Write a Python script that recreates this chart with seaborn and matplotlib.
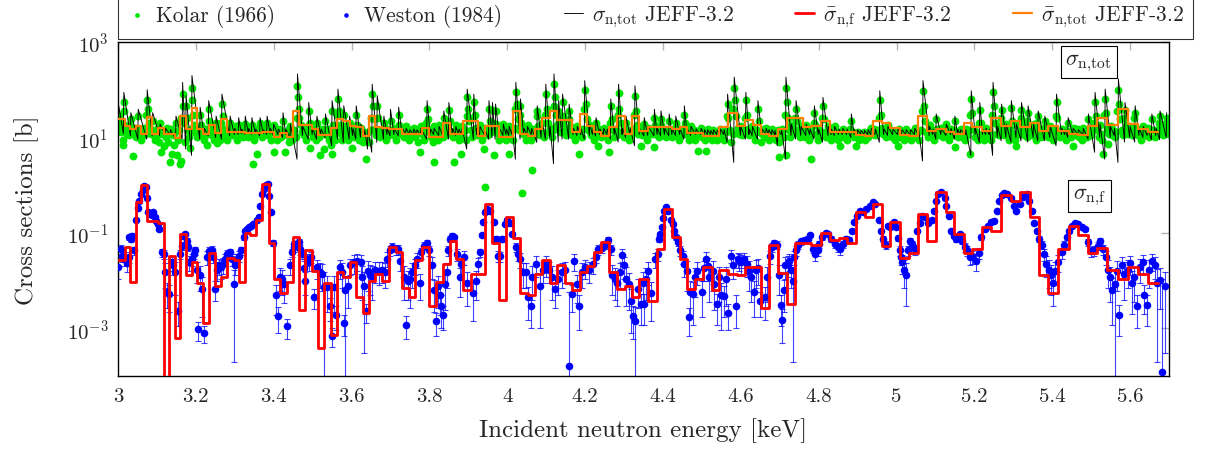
"""
Total and fission cross sections, 3.0 - 5.7 keV: Kolar/Weston data vs JEFF-3.2.
"""
import numpy as np
import pandas as pd
import matplotlib
matplotlib.use('Agg')  # headless
import matplotlib.pyplot as plt
from matplotlib.ticker import FixedLocator, FuncFormatter, NullLocator, LogFormatterSciNotation
import seaborn as sns

# ---- averaged JEFF-3.2 group values (left bin edges) ----
bin_lo = [
    3.000, 3.018, 3.031, 3.046, 3.059, 3.074, 3.088, 3.102, 3.118, 3.131,
    3.147, 3.160, 3.174, 3.190, 3.204, 3.219, 3.234, 3.250, 3.265, 3.280,
    3.297, 3.310, 3.325, 3.340, 3.355, 3.370, 3.387, 3.401, 3.417, 3.434,
    3.450, 3.464, 3.481, 3.498, 3.513, 3.530, 3.546, 3.563, 3.578, 3.595,
    3.612, 3.629, 3.645, 3.661, 3.679, 3.696, 3.713, 3.730, 3.747, 3.764,
    3.781, 3.799, 3.818, 3.836, 3.852, 3.869, 3.887, 3.906, 3.924, 3.942,
    3.960, 3.979, 3.998, 4.016, 4.034, 4.053, 4.071, 4.090, 4.109, 4.127,
    4.148, 4.167, 4.186, 4.204, 4.223, 4.242, 4.262, 4.283, 4.302, 4.320,
    4.339, 4.362, 4.384, 4.403, 4.423, 4.444, 4.463, 4.483, 4.504, 4.525,
    4.545, 4.568, 4.590, 4.611, 4.632, 4.652, 4.673, 4.695, 4.718, 4.740,
    4.761, 4.781, 4.807, 4.828, 4.852, 4.873, 4.895, 4.918, 4.939, 4.963,
    4.984, 5.008, 5.032, 5.055, 5.078, 5.102, 5.126, 5.148, 5.174, 5.195,
    5.220, 5.244, 5.268, 5.294, 5.317, 5.344, 5.367, 5.390, 5.416, 5.443,
    5.467, 5.493, 5.516, 5.542, 5.568, 5.594, 5.620, 5.645]
BIN_END = 5.671

fis_avg = [
    0.027, 0.05, 0.0095, 0.45, 1.0, 0.18, 0.18, 0.16, 5e-5, 0.033,
    0.00063, 0.095, 0.013, 0.024, 0.0087, 0.0013, 0.037, 0.0078, 0.012, 0.03,
    0.027, 0.0095, 0.098, 0.09, 0.19, 1.05, 0.062, 0.011, 0.0056, 0.0095,
    0.081, 0.0024, 0.043, 0.016, 0.00038, 0.0091, 0.00072, 0.015, 0.012, 0.024,
    0.0046, 0.0021, 0.01, 0.014, 0.0099, 0.05, 0.039, 0.0069, 0.0046, 0.027,
    0.05, 0.003, 0.0095, 0.022, 0.066, 0.028, 0.0063, 0.014, 0.014, 0.4,
    0.062, 0.004, 0.21, 0.077, 0.0056, 0.0051, 0.014, 0.027, 0.0087, 0.021,
    0.0091, 0.0063, 0.015, 0.02, 0.04, 0.065, 0.015, 0.0065, 0.0076, 0.0046,
    0.011, 0.0037, 0.046, 0.32, 0.083, 0.028, 0.0065, 0.011, 0.019, 0.0063,
    0.017, 0.014, 0.013, 0.019, 0.019, 0.0026, 0.055, 0.0145, 0.0033, 0.06,
    0.06, 0.057, 0.098, 0.071, 0.077, 0.062, 0.28, 0.21, 0.41, 0.052,
    0.17, 0.03, 0.037, 0.25, 0.069, 0.73, 0.28, 0.093, 0.038, 0.046,
    0.13, 0.11, 0.62, 0.46, 0.73, 0.22, 0.013, 0.0056, 0.046, 0.14,
    0.09, 0.038, 0.048, 0.017, 0.011, 0.019, 0.014, 0.0091]

tot_avg = [
    24, 17.4, 14.9, 17.4, 11.7, 27, 11.7, 15.6, 11.7, 11.7,
    9.5, 28, 14.9, 41, 14.9, 11.7, 18.5, 12.3, 24, 12.7,
    12.7, 12.7, 12.5, 12.5, 12.5, 12.7, 12.7, 10.4, 12.3, 10.3,
    36, 18, 18.5, 15, 11.3, 11, 15.6, 24, 22, 17.4,
    16.5, 10.5, 28, 16.5, 15.5, 15, 15, 11.7, 11.7, 11.7,
    15.6, 10, 10, 20, 11.7, 11.7, 22, 22, 10.8, 17.4,
    17.4, 10, 10, 36, 11.7, 10.8, 15, 25, 36, 23,
    23, 13.1, 31, 17.4, 12.7, 10.8, 16.2, 28, 11.7, 28,
    13.9, 16.2, 16.2, 16.2, 14.9, 16.2, 12.3, 12.3, 10.8, 10.8,
    16.2, 32, 17.4, 23, 18.5, 11.7, 10.8, 15, 26, 26,
    16.2, 17.4, 22, 12.7, 12.7, 12.7, 11.2, 10.5, 22, 20,
    15.6, 11.2, 10.5, 28, 13.9, 15, 12.7, 11.7, 20, 16.2,
    13.9, 25, 17.4, 22, 16.2, 20, 13.9, 17.4, 13.9, 11.7,
    11.2, 17.4, 26, 18.5, 40, 19, 14.9, 13.1]

# ---- pointwise JEFF-3.2 total: resonance energy, dip before it, peak ----
res_E = [
    3.002, 3.015, 3.033, 3.052, 3.075, 3.089, 3.108, 3.122, 3.135, 3.149,
    3.166, 3.175, 3.190, 3.211, 3.222, 3.233, 3.252, 3.267, 3.288, 3.300,
    3.310, 3.318, 3.327, 3.336, 3.344, 3.354, 3.365, 3.374, 3.383, 3.392,
    3.400, 3.412, 3.424, 3.432, 3.443, 3.461, 3.475, 3.490, 3.500, 3.511,
    3.522, 3.533, 3.550, 3.565, 3.580, 3.595, 3.604, 3.612, 3.624, 3.634,
    3.642, 3.653, 3.666, 3.683, 3.692,
    3.700, 3.710, 3.721, 3.731, 3.740, 3.750, 3.760, 3.768, 3.778, 3.794,
    3.803, 3.812, 3.825, 3.837, 3.850, 3.860, 3.868, 3.876, 3.884, 3.897,
    3.914, 3.922, 3.930, 3.942, 3.953, 3.962, 3.970, 3.980, 3.990, 3.998,
    4.005, 4.013, 4.022, 4.034, 4.043, 4.052, 4.063, 4.077, 4.088, 4.099,
    4.110, 4.120, 4.132, 4.142, 4.159, 4.170, 4.180, 4.190, 4.199, 4.212,
    4.220, 4.228, 4.238, 4.248, 4.257, 4.266, 4.276, 4.286, 4.296, 4.305,
    4.316, 4.328, 4.340, 4.352, 4.362,
    4.378, 4.386, 4.395, 4.405, 4.416, 4.424, 4.433, 4.444, 4.455, 4.463,
    4.472, 4.485, 4.498, 4.507, 4.515, 4.523, 4.530, 4.539, 4.548, 4.557,
    4.566, 4.583, 4.600, 4.613, 4.622, 4.630, 4.644, 4.655, 4.665, 4.672,
    4.680, 4.688, 4.695, 4.705, 4.716, 4.730, 4.742, 4.755, 4.768, 4.778,
    4.789, 4.800, 4.811, 4.825, 4.833, 4.841, 4.852, 4.862, 4.873, 4.884,
    4.892, 4.900, 4.909, 4.918, 4.927, 4.935, 4.946, 4.957, 4.968, 4.978,
    4.991, 5.004, 5.014, 5.025, 5.036, 5.047, 5.057, 5.068,
    5.085, 5.094, 5.102, 5.115, 5.128, 5.140, 5.150, 5.158, 5.165, 5.178,
    5.192, 5.203, 5.214, 5.222, 5.230, 5.239, 5.248, 5.260, 5.270, 5.282,
    5.295, 5.308, 5.321, 5.338, 5.352, 5.364, 5.381, 5.395, 5.411, 5.425,
    5.433, 5.441, 5.454, 5.467, 5.480, 5.493, 5.510, 5.523, 5.536, 5.550,
    5.560, 5.570, 5.587, 5.600, 5.613, 5.624, 5.634, 5.645, 5.656, 5.667,
    5.677, 5.694]
res_peak = [
    46, 88, 33, 39, 100, 33, 19, 15.5, 14.5, 28,
    143, 75, 198, 43, 15.5, 59, 28, 81, 28, 15.5,
    26, 15, 28, 15.5, 26, 15, 26, 14.5, 28, 15.5,
    19, 15, 33, 14.5, 19, 214, 17, 54, 15.5, 28,
    15, 31, 59, 103, 46, 28, 15.5, 46, 19, 14.5,
    14.5, 131, 75, 28, 15.5,
    39, 15.5, 43, 15.5, 15.5, 14.5, 15, 14.5, 15.5, 59,
    15, 15.5, 17, 36, 54, 15.5, 17, 15, 15.5, 103,
    81, 15.5, 17, 15.5, 59, 54, 50, 15.5, 19, 15,
    17, 15, 143, 64, 15.5, 17, 15.5, 46, 26, 131,
    17, 214, 59, 81, 50, 15.5, 17, 15, 155, 19,
    15, 26, 15, 15.5, 15, 64, 15.5, 131, 15.5, 28,
    15.5, 121, 15.5, 26, 17,
    39, 15.5, 36, 15.5, 31, 15, 28, 15.5, 46, 15,
    17, 15, 15.5, 14.5, 14.5, 14, 14.5, 14, 15, 14.5,
    81, 183, 17, 88, 15, 17, 59, 15, 15.5, 14.5,
    14.5, 14, 14.5, 15, 183, 19, 59, 17, 19, 15,
    46, 15, 69, 17, 15, 17, 15, 15.5, 15, 31,
    14.5, 14.5, 14, 14, 14.5, 15.5, 15, 95, 15, 17,
    15, 15, 14.5, 14.5, 14.5, 15.5, 14.5, 155,
    17, 15, 31, 15.5, 19, 15.5, 28, 14.5, 14.5, 14.5,
    95, 15.5, 54, 15, 15.5, 15, 143, 17, 50, 19,
    59, 19, 54, 46, 19, 36, 28, 17, 81, 15.5,
    14.5, 26, 15.5, 14.5, 15.5, 31, 88, 19, 103, 17,
    15.5, 168, 54, 17, 46, 15.5, 17, 15.5, 31, 15.5,
    36, 33]
res_dip = [
    10.8, 12, 10.8, 9.2, 9.2, 10.8, 11, 11.5, 11.5, 9.2,
    9.2, 5.7, 4.2, 9.2, 11.5, 10.8, 10, 9.2, 10.8, 11.5,
    11.5, 12, 11.5, 12, 11.5, 12, 10.8, 12, 11.5, 12,
    11, 11.5, 10, 11.5, 10, 3.5, 11, 9.2, 11.5, 9.2,
    11.5, 10, 6.7, 9.2, 7.9, 9.2, 11, 9.2, 10, 11.5,
    5.7, 4.9, 7.9, 9.2, 11.5,
    10.8, 11.5, 10.8, 11.5, 11.5, 11.5, 11.5, 11.5, 11.5, 9.2,
    11.5, 11.5, 11, 10, 9.2, 11.5, 11, 11.5, 11.5, 5.7,
    9.2, 11.5, 11, 11.5, 9.2, 10, 9.2, 11.5, 11, 11.5,
    11, 11.5, 3.5, 9.2, 11.5, 11, 11.5, 7.9, 10, 9.2,
    10, 2.8, 8, 9.2, 9.2, 11.5, 11, 11.5, 9.2, 11,
    11.5, 10.8, 11.5, 11.5, 11.5, 9.2, 11.5, 8, 11.5, 10,
    11.5, 6.7, 11.5, 10.8, 11,
    10.8, 11.5, 10.8, 11.5, 10.8, 11.5, 11, 11.5, 9.2, 11.5,
    11, 11.5, 11.5, 11.5, 11.5, 11.5, 11.5, 11.5, 11.5, 11.5,
    7.9, 3.0, 11, 9.2, 11.5, 11, 9.2, 11.5, 11.5, 11.5,
    11.5, 11.5, 6.7, 11.5, 3.5, 11, 9.2, 11, 11, 11.5,
    9.2, 11.5, 8, 11, 11.5, 11, 11.5, 11.5, 11.5, 10,
    11.5, 11.5, 11.5, 11.5, 11.5, 11.5, 11.5, 7.9, 11.5, 11,
    11.5, 11.5, 11.5, 11.5, 11.5, 11.5, 11.5, 3.2,
    11, 11.5, 9.2, 11.5, 11, 11.5, 9.2, 11.5, 11.5, 11.5,
    4.2, 11.5, 7.9, 11.5, 11.5, 11.5, 4.2, 10, 8.5, 10,
    8, 10, 8.5, 8, 10, 8.5, 8.5, 10, 6.7, 11.5,
    11.5, 10, 11.5, 11.5, 11.5, 9.2, 4.9, 10, 3.5, 10,
    11, 3.0, 8, 10, 8, 11, 10, 11, 9, 11,
    9, 10]
DIP_SHIFT = 0.0012  # keV, dip sits just below each resonance

# ---- Kolar (1966) total cross section ----
kolar_E = [
    3.000, 3.002, 3.004, 3.007, 3.010, 3.013, 3.014, 3.015, 3.016, 3.019, 3.022, 3.025, 3.028, 3.031, 3.033,
    3.036, 3.039, 3.041, 3.044, 3.047, 3.050, 3.052, 3.055, 3.058, 3.061, 3.064, 3.067, 3.070, 3.073, 3.075,
    3.077, 3.080, 3.083, 3.086, 3.089, 3.091, 3.094, 3.097, 3.100, 3.103, 3.106, 3.108, 3.110, 3.113, 3.117,
    3.120, 3.123, 3.126, 3.129, 3.132, 3.134, 3.136, 3.138, 3.141, 3.144, 3.147, 3.149, 3.151, 3.153, 3.156,
    3.158, 3.161, 3.163, 3.166, 3.167, 3.170, 3.173, 3.175, 3.177, 3.180, 3.183, 3.186, 3.188, 3.190, 3.191,
    3.193, 3.196, 3.199, 3.202, 3.205, 3.208, 3.211, 3.213, 3.216, 3.219, 3.222, 3.225, 3.228, 3.230, 3.233,
    3.235, 3.238, 3.241, 3.244, 3.247, 3.250, 3.252, 3.254, 3.257, 3.260, 3.263, 3.265, 3.267, 3.269, 3.272,
    3.275, 3.278, 3.281, 3.284, 3.287, 3.290, 3.293, 3.296, 3.299, 3.302, 3.305, 3.308, 3.311, 3.314, 3.317,
    3.320, 3.323, 3.326, 3.329, 3.332, 3.335, 3.338, 3.341, 3.344, 3.347, 3.348, 3.350, 3.353, 3.357, 3.359,
    3.362, 3.365, 3.368, 3.371, 3.374, 3.377, 3.380, 3.383, 3.386, 3.389, 3.392, 3.395, 3.398, 3.400, 3.402,
    3.405, 3.408, 3.411, 3.414, 3.417, 3.420, 3.424, 3.427, 3.430, 3.433, 3.436, 3.439, 3.442, 3.445, 3.448,
    3.452, 3.456, 3.459, 3.461, 3.462, 3.464, 3.466, 3.469, 3.472, 3.475, 3.478, 3.481, 3.484, 3.487, 3.490,
    3.492, 3.494, 3.497, 3.500, 3.503, 3.506, 3.509, 3.511, 3.514, 3.517, 3.520, 3.523, 3.526, 3.528, 3.531,
    3.533, 3.536, 3.539, 3.542, 3.545, 3.548, 3.550, 3.551, 3.552, 3.555, 3.558, 3.561, 3.563, 3.565, 3.567,
    3.570, 3.573, 3.576, 3.578, 3.580, 3.582, 3.585, 3.588, 3.591, 3.594, 3.595, 3.598, 3.601, 3.604, 3.607,
    3.610, 3.612, 3.614, 3.617, 3.620, 3.623, 3.626, 3.629, 3.632, 3.636, 3.638, 3.641, 3.644, 3.647, 3.650,
    3.653, 3.654, 3.657, 3.660, 3.663, 3.666, 3.668, 3.671, 3.674, 3.677, 3.680, 3.683, 3.686, 3.689, 3.692,
    3.695, 3.698,
    3.702, 3.705, 3.708, 3.712, 3.715, 3.718, 3.721, 3.723, 3.727, 3.731, 3.734, 3.738, 3.741, 3.744, 3.748,
    3.751, 3.755, 3.758, 3.761, 3.764, 3.768, 3.771, 3.774, 3.777, 3.779, 3.782, 3.786, 3.789, 3.792, 3.794,
    3.796, 3.799, 3.803, 3.806, 3.809, 3.811, 3.813, 3.817, 3.820, 3.823, 3.825, 3.828, 3.832, 3.835, 3.837,
    3.840, 3.843, 3.846, 3.849, 3.850, 3.853, 3.856, 3.860, 3.863, 3.865, 3.868, 3.871, 3.875, 3.878, 3.880,
    3.882, 3.884, 3.887, 3.891, 3.894, 3.896, 3.897, 3.899, 3.902, 3.906, 3.909, 3.912, 3.914, 3.916, 3.919,
    3.923, 3.926, 3.930, 3.933, 3.936, 3.940, 3.942, 3.944, 3.946, 3.950, 3.953, 3.955, 3.958, 3.962, 3.964,
    3.966, 3.968, 3.970, 3.972, 3.975, 3.979, 3.982, 3.986, 3.990, 3.993, 3.997, 4.000, 4.004, 4.005, 4.008,
    4.012, 4.015, 4.019, 4.021, 4.022, 4.024, 4.027, 4.030, 4.033, 4.034, 4.036, 4.037, 4.040, 4.044, 4.047,
    4.050, 4.052, 4.055, 4.059, 4.062, 4.064, 4.066, 4.069, 4.073, 4.076, 4.077, 4.080, 4.084, 4.088, 4.091,
    4.095, 4.097, 4.099, 4.101, 4.104, 4.108, 4.111, 4.114, 4.117, 4.119, 4.120, 4.122, 4.125, 4.128, 4.131,
    4.133, 4.136, 4.140, 4.142, 4.144, 4.148, 4.151, 4.155, 4.158, 4.159, 4.162, 4.166, 4.170, 4.173, 4.177,
    4.180, 4.183, 4.185, 4.188, 4.192, 4.195, 4.197, 4.199, 4.201, 4.204, 4.208, 4.212, 4.215, 4.219, 4.222,
    4.225, 4.228, 4.231, 4.232, 4.236, 4.240, 4.244, 4.248, 4.251, 4.255, 4.258, 4.262, 4.264, 4.266, 4.268,
    4.272, 4.275, 4.279, 4.282, 4.284, 4.286, 4.288, 4.291, 4.295, 4.299, 4.302, 4.305, 4.308, 4.312, 4.316,
    4.319, 4.323, 4.326, 4.328, 4.330, 4.333, 4.337, 4.340, 4.343, 4.345, 4.349, 4.352, 4.355, 4.359, 4.362,
    4.365, 4.368,
    4.372, 4.375, 4.377, 4.378, 4.380, 4.384, 4.387, 4.391, 4.394, 4.396, 4.400, 4.403, 4.407, 4.410, 4.413,
    4.416, 4.419, 4.423, 4.426, 4.430, 4.433, 4.436, 4.440, 4.443, 4.447, 4.451, 4.454, 4.456, 4.460, 4.463,
    4.467, 4.470, 4.472, 4.476, 4.479, 4.483, 4.486, 4.489, 4.491, 4.494, 4.498, 4.501, 4.505, 4.508, 4.511,
    4.513, 4.515, 4.519, 4.522, 4.526, 4.529, 4.532, 4.536, 4.540, 4.543, 4.547, 4.550, 4.554, 4.558, 4.561,
    4.564, 4.566, 4.568, 4.571, 4.575, 4.579, 4.581, 4.583, 4.585, 4.588, 4.592, 4.596, 4.600, 4.603, 4.607,
    4.611, 4.613, 4.615, 4.619, 4.622, 4.626, 4.630, 4.633, 4.637, 4.641, 4.644, 4.646, 4.649, 4.652, 4.655,
    4.659, 4.662, 4.665, 4.668, 4.672, 4.676, 4.680, 4.683, 4.687, 4.691, 4.695, 4.697, 4.699, 4.703, 4.707,
    4.710, 4.713, 4.716, 4.716, 4.718, 4.721, 4.724, 4.727, 4.730, 4.733, 4.737, 4.740, 4.742, 4.744, 4.748,
    4.751, 4.755, 4.758, 4.762, 4.765, 4.768, 4.771, 4.775, 4.778, 4.781, 4.783, 4.787, 4.789, 4.791, 4.795,
    4.799, 4.802, 4.806, 4.809, 4.811, 4.813, 4.817, 4.820, 4.825, 4.828, 4.832, 4.836, 4.839, 4.841, 4.845,
    4.849, 4.852, 4.854, 4.858, 4.862, 4.865, 4.869, 4.873, 4.877, 4.881, 4.884, 4.887, 4.891, 4.895, 4.897,
    4.900, 4.904, 4.908, 4.912, 4.916, 4.920, 4.924, 4.928, 4.932, 4.935, 4.938, 4.942, 4.946, 4.950, 4.954,
    4.957, 4.959, 4.962, 4.966, 4.970, 4.974, 4.978, 4.981, 4.985, 4.989, 4.993, 4.997, 5.001, 5.004, 5.006,
    5.010, 5.014, 5.018, 5.022, 5.025, 5.029, 5.033, 5.037, 5.041, 5.044, 5.047, 5.051, 5.055, 5.059, 5.062,
    5.065, 5.068, 5.070,
    5.073, 5.076, 5.080, 5.083, 5.085, 5.088, 5.092, 5.096, 5.099, 5.102, 5.105, 5.109, 5.112, 5.115, 5.119,
    5.122, 5.126, 5.128, 5.132, 5.136, 5.140, 5.143, 5.147, 5.150, 5.151, 5.154, 5.158, 5.162, 5.165, 5.169,
    5.172, 5.176, 5.178, 5.182, 5.185, 5.188, 5.190, 5.192, 5.194, 5.198, 5.202, 5.205, 5.209, 5.212, 5.214,
    5.216, 5.220, 5.224, 5.227, 5.230, 5.234, 5.238, 5.242, 5.245, 5.248, 5.250, 5.253, 5.256, 5.260, 5.263,
    5.266, 5.269, 5.270, 5.273, 5.276, 5.279, 5.282, 5.285, 5.288, 5.292, 5.295, 5.297, 5.301, 5.304, 5.308,
    5.309, 5.312, 5.316, 5.319, 5.321, 5.323, 5.327, 5.330, 5.334, 5.336, 5.338, 5.341, 5.345, 5.348, 5.352,
    5.355, 5.359, 5.362, 5.364, 5.367, 5.370, 5.374, 5.378, 5.381, 5.384, 5.388, 5.392, 5.395, 5.399, 5.403,
    5.407, 5.409, 5.411, 5.413, 5.417, 5.421, 5.425, 5.428, 5.432, 5.436, 5.439, 5.441, 5.444, 5.448, 5.451,
    5.454, 5.456, 5.460, 5.463, 5.467, 5.470, 5.474, 5.477, 5.480, 5.484, 5.487, 5.490, 5.493, 5.496, 5.500,
    5.503, 5.507, 5.510, 5.512, 5.515, 5.519, 5.523, 5.526, 5.529, 5.531, 5.534, 5.536, 5.538, 5.541, 5.544,
    5.546, 5.550, 5.553, 5.557, 5.561, 5.564, 5.567, 5.570, 5.572, 5.575, 5.579, 5.583, 5.585, 5.587, 5.590,
    5.594, 5.597, 5.600, 5.604, 5.608, 5.611, 5.613, 5.616, 5.620, 5.624, 5.627, 5.631, 5.634, 5.638, 5.641,
    5.645, 5.648, 5.652, 5.656, 5.659, 5.663, 5.667, 5.671, 5.675, 5.677, 5.680, 5.684, 5.688, 5.692, 5.694,
    5.697, 5.699]
kolar_sig = [
    14, 30, 20, 13, 16, 9, 7, 55, 35, 18, 12, 15, 11, 17, 24,
    14, 4.0, 12, 16, 10, 15, 28, 13, 9, 14, 11, 16, 12, 30, 60,
    40, 20, 15, 12, 22, 14, 9, 13, 11, 16, 8, 20, 4.9, 12, 6.7,
    14, 10, 16, 8, 12, 3.0, 15, 4.6, 11, 7, 13, 20, 4.2, 9, 14,
    2.8, 3.2, 25, 80, 45, 20, 8, 45, 25, 14, 10, 6, 15, 110, 60,
    30, 18, 13, 10, 16, 12, 30, 18, 11, 14, 9, 15, 7, 12, 40,
    22, 14, 11, 16, 9, 13, 20, 7.5, 14, 11, 9, 20, 50, 28, 15,
    11, 14, 9, 13, 20, 15, 11, 16, 12, 17, 9, 14, 18, 12, 15,
    10, 14, 19, 13, 16, 10, 14, 11, 18, 13, 2.8, 9, 15, 4.6, 12,
    16, 20, 13, 10, 15, 12, 17, 20, 11, 14, 9, 13, 16, 4.9, 18,
    12, 9, 14, 11, 15, 10, 22, 13, 4.9, 11, 14, 8, 17, 12, 9,
    14, 10, 25, 120, 70, 40, 25, 18, 13, 16, 11, 14, 9, 17, 35,
    20, 5.9, 13, 10, 15, 12, 9, 20, 13, 10, 4.2, 15, 12, 5.7, 14,
    22, 11, 15, 9, 13, 7, 35, 4.5, 18, 12, 9, 14, 30, 65, 35,
    18, 12, 9, 15, 30, 17, 11, 14, 9, 13, 20, 12, 6, 14, 10,
    16, 30, 18, 12, 9, 16, 12, 8, 13, 3.5, 10, 13, 8, 14, 25,
    80, 45, 24, 15, 11, 45, 25, 14, 10, 15, 12, 20, 13, 9, 15,
    11, 14,
    22, 14, 11, 16, 9, 13, 30, 18, 12, 15, 10, 14, 17, 12, 9,
    14, 11, 15, 16, 10, 13, 8, 15, 5, 17, 12, 9, 14, 20, 40,
    24, 13, 10, 15, 8, 3.0, 17, 11, 14, 9, 18, 12, 15, 10, 26,
    16, 11, 14, 20, 38, 22, 13, 10, 3.1, 14, 18, 11, 9, 14, 4.6,
    12, 17, 10, 14, 9, 28, 70, 40, 22, 14, 10, 25, 55, 30, 16,
    11, 14, 18, 12, 9, 5.7, 13, 0.9, 16, 11, 40, 22, 13, 38, 20,
    4.2, 14, 35, 19, 12, 9, 14, 11, 19, 13, 9, 14, 4.6, 17, 11,
    14, 9, 16, 40, 90, 50, 24, 14, 30, 45, 20, 0.70, 12, 15, 9,
    13, 18, 11, 14, 9, 2.1, 15, 11, 14, 28, 35, 17, 11, 20, 13,
    10, 30, 80, 40, 20, 13, 16, 10, 14, 45, 130, 70, 30, 18, 35,
    22, 13, 20, 55, 28, 15, 11, 14, 24, 35, 17, 11, 14, 9, 13,
    17, 11, 4.6, 14, 10, 15, 40, 100, 50, 24, 14, 18, 11, 14, 9,
    13, 20, 12, 6.7, 15, 10, 14, 16, 11, 14, 9, 5, 20, 45, 24,
    14, 10, 15, 11, 30, 85, 40, 20, 13, 10, 15, 20, 12, 9, 14,
    11, 15, 30, 75, 35, 18, 12, 16, 6.7, 11, 14, 19, 12, 9, 16,
    12, 14,
    12, 15, 26, 6.2, 18, 11, 14, 10, 24, 18, 12, 15, 10, 14, 11,
    22, 14, 10, 15, 12, 20, 13, 9, 15, 11, 14, 30, 20, 12, 15,
    9, 13, 17, 11, 14, 9, 13, 5.3, 11, 14, 16, 10, 13, 9, 5.3,
    12, 15, 10, 13, 9, 14, 11, 13, 9, 12, 15, 11, 14, 9, 13,
    28, 50, 25, 14, 8, 12, 40, 110, 60, 28, 16, 12, 17, 11, 14,
    25, 60, 30, 15, 11, 14, 17, 12, 9, 14, 40, 22, 13, 7.9, 12,
    15, 10, 16, 12, 9, 13, 15, 10, 13, 9, 14, 8, 3.9, 12, 15,
    10, 30, 110, 4.2, 55, 25, 14, 10, 18, 12, 15, 25, 40, 22, 13,
    10, 17, 12, 14, 10, 18, 12, 9, 14, 3.5, 12, 20, 32, 18, 12,
    9, 14, 11, 25, 45, 24, 13, 10, 17, 12, 9, 14, 11, 17, 12,
    9, 13, 6.7, 11, 15, 10, 13, 9, 12, 15, 22, 13, 10, 12, 6.7,
    13, 9, 12, 10, 13, 9, 12, 10, 14, 16, 12, 15, 11, 14, 25,
    60, 30, 16, 12, 15, 10, 18, 12, 14, 10, 13, 9, 12, 6.7, 15,
    10, 12, 9, 13, 15, 10, 12, 9, 13, 11, 16, 10, 13, 9, 14,
    35, 95, 45,
    22, 13, 10, 14, 18, 11, 14, 9, 13, 24, 15, 11, 13, 16, 10,
    14, 12, 19, 12, 9, 15, 11, 14, 6.2, 22, 13, 10, 14, 15, 10,
    13, 9, 15, 11, 14, 4.6, 30, 65, 32, 15, 10, 13, 9, 20, 38,
    20, 12, 9, 13, 16, 11, 14, 9, 30, 90, 45, 20, 12, 17, 11,
    14, 25, 38, 18, 11, 14, 19, 12, 9, 16, 42, 22, 12, 9, 6.7,
    18, 12, 15, 25, 38, 18, 11, 14, 10, 22, 33, 17, 11, 14, 19,
    12, 9, 20, 28, 15, 10, 13, 16, 22, 13, 10, 14, 17, 11, 9,
    14, 28, 55, 26, 13, 10, 15, 11, 14, 9, 13, 20, 13, 10, 14,
    6.7, 16, 11, 13, 15, 10, 13, 9, 16, 12, 14, 10, 24, 15, 11,
    14, 20, 55, 28, 14, 10, 18, 12, 9, 4.6, 30, 65, 32, 15, 7.2,
    12, 17, 11, 14, 10, 13, 35, 100, 50, 24, 14, 11, 25, 38, 18,
    12, 14, 17, 11, 14, 25, 33, 16, 11, 14, 9, 13, 17, 11, 14,
    16, 10, 14, 24, 14, 10, 14, 12, 20, 28, 16, 11, 14, 20, 26,
    15, 12]

# ---- Weston (1984) fission cross section with uncertainties ----
weston_E = [
    3.000, 3.008, 3.011, 3.016, 3.022, 3.027, 3.028, 3.033, 3.037, 3.040,
    3.046, 3.051, 3.054, 3.059, 3.063, 3.068, 3.072, 3.074, 3.076, 3.081,
    3.087, 3.091, 3.094, 3.097, 3.102, 3.106, 3.112, 3.117, 3.121, 3.125,
    3.130, 3.138, 3.142, 3.147, 3.154, 3.160, 3.164, 3.168, 3.172, 3.177,
    3.179, 3.183, 3.190, 3.194, 3.198, 3.202, 3.205, 3.211, 3.217, 3.222,
    3.228, 3.234, 3.241, 3.245, 3.248, 3.254, 3.260, 3.265, 3.271, 3.275,
    3.280, 3.288, 3.292, 3.297, 3.301, 3.305, 3.311, 3.317, 3.323, 3.327,
    3.331, 3.336, 3.342, 3.348, 3.357, 3.363, 3.366, 3.370, 3.374, 3.380,
    3.385, 3.389, 3.393, 3.397, 3.406, 3.411, 3.417, 3.421, 3.426, 3.434,
    3.443, 3.447, 3.451,
    3.453, 3.458, 3.464, 3.468, 3.473, 3.477, 3.481, 3.486, 3.490, 3.496,
    3.504, 3.510, 3.518, 3.524, 3.528, 3.537, 3.544, 3.550, 3.554, 3.561,
    3.571, 3.575, 3.580, 3.584, 3.590, 3.597, 3.606, 3.614, 3.623, 3.627,
    3.631, 3.638, 3.642, 3.647, 3.653, 3.661, 3.670, 3.678, 3.687, 3.691,
    3.698, 3.704, 3.713, 3.719, 3.724, 3.734, 3.741, 3.745, 3.750, 3.756,
    3.762, 3.768, 3.775, 3.779, 3.786, 3.793, 3.799, 3.807, 3.811, 3.817,
    3.823, 3.827, 3.830, 3.835, 3.839, 3.844, 3.848, 3.853, 3.859, 3.863,
    3.871, 3.878, 3.882, 3.889, 3.897,
    3.912, 3.919, 3.926, 3.929, 3.934, 3.938, 3.943, 3.949, 3.955, 3.966,
    3.972, 3.977, 3.981, 3.987, 3.994, 4.000, 4.006, 4.013, 4.022, 4.028,
    4.033, 4.040, 4.047, 4.052, 4.060, 4.064, 4.073, 4.083, 4.092, 4.099,
    4.106, 4.116, 4.123, 4.131, 4.140, 4.149, 4.159, 4.166, 4.172, 4.178,
    4.185, 4.193, 4.200, 4.210, 4.219, 4.227, 4.234, 4.243, 4.251, 4.260,
    4.266, 4.270, 4.277, 4.283, 4.289, 4.294, 4.300, 4.306, 4.313, 4.318,
    4.322, 4.329, 4.335, 4.343,
    4.349, 4.352, 4.356, 4.362, 4.369, 4.379, 4.386, 4.391, 4.393, 4.397,
    4.399, 4.403, 4.408, 4.414, 4.421, 4.425, 4.429, 4.433, 4.438, 4.445,
    4.451, 4.455, 4.463, 4.468, 4.470, 4.476, 4.482, 4.487, 4.500, 4.506,
    4.510, 4.515, 4.519, 4.528, 4.532, 4.539, 4.545, 4.549, 4.556, 4.562,
    4.568, 4.575, 4.579, 4.588, 4.592, 4.596, 4.601, 4.608, 4.616, 4.622,
    4.627, 4.633, 4.639, 4.645, 4.650, 4.661, 4.668, 4.674, 4.680, 4.686,
    4.693, 4.697, 4.702, 4.705, 4.710, 4.714, 4.721, 4.725, 4.729, 4.734,
    4.736, 4.742, 4.748, 4.755, 4.764, 4.772, 4.779, 4.785, 4.791, 4.798,
    4.802, 4.809, 4.818, 4.824, 4.832, 4.841, 4.849, 4.855, 4.862, 4.871,
    4.879, 4.886, 4.892, 4.898, 4.905, 4.914, 4.922, 4.931, 4.939, 4.946,
    4.955, 4.961, 4.965, 4.972, 4.978, 4.984, 4.993, 4.999, 5.004, 5.008,
    5.012, 5.015, 5.018, 5.024, 5.030, 5.034, 5.041, 5.047, 5.053, 5.060,
    5.066, 5.072, 5.081, 5.090, 5.096, 5.101, 5.107, 5.115, 5.124, 5.128,
    5.135, 5.141, 5.147, 5.154, 5.162, 5.169, 5.175, 5.181, 5.188, 5.195,
    5.204, 5.212, 5.218, 5.227, 5.236, 5.244,
    5.251, 5.257, 5.263, 5.270, 5.277, 5.285, 5.294, 5.302, 5.308, 5.317,
    5.325, 5.334, 5.340, 5.347, 5.354, 5.360, 5.366, 5.373, 5.379, 5.385,
    5.391, 5.397, 5.403, 5.407, 5.415, 5.424, 5.431, 5.437, 5.443, 5.450,
    5.458, 5.467, 5.476, 5.484, 5.493, 5.500, 5.508, 5.517, 5.523, 5.531,
    5.537, 5.544, 5.548, 5.553, 5.560, 5.566, 5.572, 5.578, 5.585, 5.594,
    5.600, 5.606, 5.611, 5.617, 5.626, 5.632, 5.637, 5.643, 5.649, 5.656,
    5.663, 5.669, 5.677, 5.683, 5.691]
weston_sig = [
    0.019, 0.046, 0.032, 0.028, 0.023, 0.031, 0.081, 0.075, 0.087, 0.043,
    0.19, 0.33, 0.47, 0.65, 0.80, 0.97, 0.90, 0.55, 0.28, 0.25,
    0.24, 0.27, 0.21, 0.18, 0.15, 0.12, 0.039, 0.036, 0.015, 0.0057,
    0.0052, 0.024, 0.021, 0.015, 0.0023, 0.036, 0.054, 0.087, 0.094, 0.069,
    0.050, 0.024, 0.028, 0.036, 0.043, 0.017, 0.00095, 0.013, 0.0067, 0.0008,
    0.031, 0.041, 0.043, 0.031, 0.0067, 0.017, 0.021, 0.019, 0.022, 0.028,
    0.036, 0.039, 0.028, 0.0084, 0.021, 0.028, 0.033, 0.043, 0.081, 0.112,
    0.12, 0.13, 0.14, 0.15, 0.19, 0.22, 0.37, 0.65, 0.83, 1.0,
    1.05, 0.60, 0.27, 0.062, 0.0049, 0.0018, 0.012, 0.011, 0.0084, 0.0011,
    0.021, 0.039, 0.059,
    0.050, 0.059, 0.064, 0.045, 0.036, 0.018, 0.0099, 0.028, 0.024, 0.031,
    0.0045, 0.019, 0.015, 0.014, 0.0075, 0.0072, 0.0029, 0.0007, 0.0072, 0.0019,
    0.019, 0.015, 0.0013, 0.0062, 0.0077, 0.021, 0.024, 0.026, 0.024, 0.012,
    0.0077, 0.0023, 0.016, 0.013, 0.012, 0.017, 0.016, 0.017, 0.015, 0.029,
    0.043, 0.050, 0.045, 0.045, 0.026, 0.012, 0.0012, 0.0099, 0.0106, 0.015,
    0.021, 0.028, 0.009, 0.039, 0.054, 0.061, 0.043, 0.021, 0.0062, 0.0014,
    0.0077, 0.0049, 0.003, 0.0019, 0.0084, 0.015, 0.043, 0.075, 0.087, 0.081,
    0.036, 0.0116, 0.022, 0.031, 0.009,
    0.0054, 0.0099, 0.022, 0.039, 0.09, 0.17, 0.27, 0.32, 0.29, 0.17,
    0.075, 0.033, 0.032, 0.075, 0.15, 0.19, 0.16, 0.094, 0.050, 0.036,
    0.028, 0.015, 0.015, 0.0045, 0.003, 0.012, 0.022, 0.0077, 0.017, 0.022,
    0.017, 0.012, 0.0067, 0.011, 0.015, 0.017, 0.00016, 0.0052, 0.026, 0.0084,
    0.0029, 0.015, 0.019, 0.017, 0.022, 0.031, 0.045, 0.048, 0.056, 0.072,
    0.045, 0.013, 0.011, 0.009, 0.015, 0.035, 0.021, 0.011, 0.0084, 0.0038,
    0.0018, 0.0014, 0.0067, 0.0032,
    0.009, 0.0032, 0.011, 0.016, 0.0054, 0.028, 0.036, 0.075, 0.094, 0.13,
    0.20, 0.29, 0.34, 0.29, 0.19, 0.15, 0.112, 0.081, 0.064, 0.043,
    0.032, 0.022, 0.016, 0.0017, 0.0059, 0.0052, 0.0116, 0.016, 0.0057, 0.018,
    0.029, 0.020, 0.0116, 0.016, 0.0084, 0.0032, 0.0116, 0.0049, 0.0047, 0.011,
    0.0021, 0.033, 0.021, 0.003, 0.028, 0.026, 0.024, 0.028, 0.022, 0.016,
    0.0116, 0.0057, 0.017, 0.018, 0.0037, 0.0045, 0.0116, 0.032, 0.050, 0.062,
    0.056, 0.013, 0.0031, 0.0015, 0.0062, 0.021, 0.022, 0.026, 0.017, 0.0099,
    0.031, 0.043, 0.056, 0.066, 0.072, 0.075, 0.09, 0.047, 0.036, 0.043,
    0.059, 0.081, 0.10, 0.094, 0.075, 0.059, 0.050, 0.045, 0.059, 0.075,
    0.072, 0.112, 0.17, 0.23, 0.29, 0.27, 0.31, 0.37, 0.44, 0.40,
    0.19, 0.112, 0.075, 0.056, 0.14, 0.13, 0.17, 0.13, 0.078, 0.043,
    0.031, 0.024, 0.017, 0.013, 0.043, 0.069, 0.059, 0.045, 0.112, 0.16,
    0.23, 0.21, 0.16, 0.19, 0.29, 0.47, 0.65, 0.72, 0.55, 0.37,
    0.23, 0.112, 0.087, 0.075, 0.094, 0.069, 0.050, 0.043, 0.031, 0.032,
    0.026, 0.038, 0.081, 0.12, 0.14, 0.17,
    0.18, 0.29, 0.47, 0.62, 0.68, 0.65, 0.55, 0.37, 0.29, 0.40,
    0.57, 0.65, 0.47, 0.29, 0.16, 0.11, 0.075, 0.056, 0.036, 0.022,
    0.017, 0.013, 0.009, 0.016, 0.025, 0.039, 0.056, 0.081, 0.11, 0.14,
    0.16, 0.15, 0.13, 0.12, 0.064, 0.041, 0.043, 0.054, 0.069, 0.045,
    0.031, 0.017, 0.0116, 0.0062, 0.0084, 0.016, 0.0019, 0.021, 0.014, 0.017,
    0.023, 0.009, 0.0116, 0.003, 0.019, 0.024, 0.005, 0.0031, 0.017, 0.026,
    0.021, 0.009, 0.0105, 0.00012, 0.0077]
weston_err = [
    0.008, 0.010, 0.008, 0.008, 0.008, 0.008, 0.010, 0.010, 0.010, 0.008,
    0.015, 0.02, 0.02, 0.03, 0.03, 0.04, 0.04, 0.03, 0.02, 0.02,
    0.02, 0.02, 0.015, 0.015, 0.012, 0.012, 0.008, 0.008, 0.008, 0.003,
    0.003, 0.008, 0.008, 0.010, 0.0012, 0.008, 0.010, 0.010, 0.010, 0.010,
    0.008, 0.008, 0.008, 0.008, 0.008, 0.008, 0.0004, 0.007, 0.005, 0.0003,
    0.010, 0.010, 0.010, 0.008, 0.003, 0.007, 0.008, 0.008, 0.008, 0.008,
    0.008, 0.008, 0.008, 0.0082, 0.008, 0.008, 0.008, 0.008, 0.010, 0.010,
    0.010, 0.010, 0.010, 0.012, 0.015, 0.015, 0.02, 0.03, 0.03, 0.04,
    0.04, 0.03, 0.02, 0.010, 0.003, 0.001, 0.006, 0.006, 0.005, 0.0005,
    0.008, 0.008, 0.010,
    0.010, 0.010, 0.010, 0.010, 0.008, 0.008, 0.005, 0.008, 0.008, 0.008,
    0.002, 0.008, 0.008, 0.008, 0.0075, 0.005, 0.0015, 0.0003, 0.005, 0.001,
    0.008, 0.008, 0.0006, 0.0062, 0.005, 0.008, 0.010, 0.010, 0.010, 0.008,
    0.0074, 0.001, 0.010, 0.008, 0.008, 0.008, 0.008, 0.008, 0.008, 0.010,
    0.010, 0.010, 0.010, 0.010, 0.010, 0.008, 0.0006, 0.006, 0.008, 0.008,
    0.008, 0.010, 0.005, 0.010, 0.010, 0.010, 0.010, 0.010, 0.004, 0.0007,
    0.005, 0.003, 0.002, 0.001, 0.006, 0.008, 0.010, 0.010, 0.010, 0.010,
    0.010, 0.007, 0.010, 0.010, 0.006,
    0.004, 0.006, 0.008, 0.008, 0.010, 0.012, 0.02, 0.02, 0.02, 0.012,
    0.010, 0.008, 0.008, 0.010, 0.012, 0.015, 0.012, 0.010, 0.010, 0.010,
    0.010, 0.008, 0.008, 0.003, 0.002, 0.008, 0.010, 0.0067, 0.008, 0.010,
    0.008, 0.008, 0.004, 0.006, 0.008, 0.008, 0.0056, 0.003, 0.010, 0.005,
    0.002, 0.008, 0.008, 0.008, 0.008, 0.008, 0.010, 0.010, 0.010, 0.010,
    0.010, 0.008, 0.007, 0.006, 0.008, 0.010, 0.010, 0.008, 0.006, 0.003,
    0.0012, 0.0014, 0.004, 0.002,
    0.006, 0.002, 0.007, 0.008, 0.004, 0.010, 0.010, 0.010, 0.010, 0.012,
    0.015, 0.02, 0.02, 0.02, 0.015, 0.012, 0.010, 0.010, 0.010, 0.010,
    0.010, 0.010, 0.010, 0.001, 0.004, 0.004, 0.007, 0.008, 0.004, 0.008,
    0.010, 0.010, 0.008, 0.010, 0.006, 0.002, 0.008, 0.004, 0.003, 0.008,
    0.0012, 0.010, 0.010, 0.002, 0.010, 0.010, 0.010, 0.010, 0.010, 0.010,
    0.008, 0.004, 0.010, 0.010, 0.002, 0.003, 0.008, 0.010, 0.010, 0.010,
    0.010, 0.008, 0.002, 0.001, 0.004, 0.010, 0.010, 0.010, 0.010, 0.0097,
    0.010, 0.010, 0.010, 0.010, 0.010, 0.010, 0.010, 0.010, 0.010, 0.010,
    0.010, 0.010, 0.010, 0.010, 0.010, 0.010, 0.010, 0.010, 0.010, 0.010,
    0.010, 0.010, 0.012, 0.015, 0.02, 0.02, 0.02, 0.02, 0.02, 0.02,
    0.015, 0.010, 0.010, 0.010, 0.012, 0.012, 0.012, 0.012, 0.010, 0.010,
    0.010, 0.010, 0.010, 0.010, 0.010, 0.010, 0.010, 0.010, 0.010, 0.012,
    0.015, 0.015, 0.012, 0.015, 0.02, 0.02, 0.03, 0.03, 0.03, 0.02,
    0.015, 0.010, 0.010, 0.010, 0.010, 0.010, 0.010, 0.010, 0.010, 0.010,
    0.010, 0.010, 0.010, 0.012, 0.012, 0.012,
    0.012, 0.02, 0.02, 0.03, 0.03, 0.03, 0.03, 0.02, 0.02, 0.02,
    0.03, 0.03, 0.02, 0.02, 0.012, 0.010, 0.010, 0.010, 0.010, 0.010,
    0.010, 0.008, 0.006, 0.008, 0.010, 0.010, 0.010, 0.010, 0.010, 0.012,
    0.012, 0.012, 0.012, 0.012, 0.010, 0.010, 0.010, 0.010, 0.010, 0.010,
    0.010, 0.010, 0.008, 0.005, 0.0083, 0.010, 0.0012, 0.010, 0.010, 0.010,
    0.010, 0.007, 0.008, 0.002, 0.010, 0.010, 0.003, 0.002, 0.010, 0.010,
    0.010, 0.0088, 0.008, 0.0108, 0.0074]

# ---- style ----
sns.set_style('white')
plt.rcParams['font.family'] = 'serif'
plt.rcParams['font.serif'] = ['cmr10']
plt.rcParams['mathtext.fontset'] = 'cm'
plt.rcParams['axes.unicode_minus'] = False
plt.rcParams['axes.formatter.use_mathtext'] = True

GREEN = '#00e600'
BLUE = '#0000ff'
RED = '#ff0000'
ORANGE = '#ff8000'

# tables for seaborn
kolar = pd.DataFrame({'E': kolar_E, 'sig': kolar_sig})
weston = pd.DataFrame({'E': weston_E, 'sig': weston_sig, 'err': weston_err})
steps = pd.DataFrame({'E': bin_lo + [BIN_END],
                      'fis': fis_avg + [fis_avg[-1]],
                      'tot': tot_avg + [tot_avg[-1]]})
line_E, line_sig = [], []
for e, dip, peak in zip(res_E, res_dip, res_peak):
    line_E += [e - DIP_SHIFT, e]
    line_sig += [dip, peak]
pointwise = pd.DataFrame({'E': line_E, 'sig': line_sig})

fig = plt.figure(figsize=(12.11, 4.52), dpi=100)
ax = fig.add_axes([118 / 1211, 1 - 377 / 452, 1051 / 1211, 334 / 452])

sns.scatterplot(data=kolar, x='E', y='sig', ax=ax, color=GREEN, s=32,
                linewidth=0, zorder=1, label='Kolar (1966)')
ax.errorbar(weston['E'], weston['sig'], yerr=weston['err'], fmt='none',
            ecolor=BLUE, elinewidth=0.8, capsize=2.5, capthick=0.8,
            alpha=0.75, zorder=2)
sns.scatterplot(data=weston, x='E', y='sig', ax=ax, color=BLUE, s=30,
                linewidth=0, zorder=3, label='Weston (1984)')
sns.lineplot(data=pointwise, x='E', y='sig', ax=ax, color='black', lw=0.65,
             estimator=None, sort=False, zorder=4,
             label=r'$\sigma_{\rm n{,}tot}$ JEFF-3.2')
sns.lineplot(data=steps, x='E', y='fis', ax=ax, color=RED, lw=2.0,
             estimator=None, sort=False, drawstyle='steps-post', zorder=5,
             label=r'$\bar{\sigma}_{\rm n{,}f}$ JEFF-3.2')
sns.lineplot(data=steps, x='E', y='tot', ax=ax, color=ORANGE, lw=1.6,
             estimator=None, sort=False, drawstyle='steps-post', zorder=6,
             label=r'$\bar{\sigma}_{\rm n{,}tot}$ JEFF-3.2')

ax.set_yscale('log')
ax.set_xlim(3.0, 5.7)
ax.set_ylim(1e-4, 1e3)
ax.xaxis.set_major_locator(FixedLocator([3.0, 3.2, 3.4, 3.6, 3.8, 4.0, 4.2, 4.4,
                                         4.6, 4.8, 5.0, 5.2, 5.4, 5.6]))
ax.xaxis.set_major_formatter(FuncFormatter(lambda v, p: f'{v:g}'))
ax.yaxis.set_major_locator(FixedLocator([1e-3, 1e-1, 1e1, 1e3]))
ax.yaxis.set_major_formatter(LogFormatterSciNotation())
ax.yaxis.set_minor_locator(NullLocator())
ax.xaxis.set_minor_locator(NullLocator())
ax.tick_params(direction='in', length=6, width=1, color='#b3b3b3',
               top=True, right=True, labelsize=15)
ax.tick_params(axis='x', pad=8)
ax.tick_params(axis='y', pad=7)
for sp in ax.spines.values():
    sp.set_color('black')
    sp.set_linewidth(1.0)

ax.set_xlabel('Incident neutron energy [keV]', fontsize=18, labelpad=9)
ax.set_ylabel('Cross sections [b]', fontsize=18, labelpad=20)

box = dict(boxstyle='square,pad=0.22', fc='white', ec='black', lw=0.8)
ax.text(5.494, 380, r'$\sigma_{\rm n{,}tot}$', ha='center', va='center',
        fontsize=16, bbox=box, zorder=10)
ax.text(5.496, 0.59, r'$\sigma_{\rm n{,}f}$', ha='center', va='center',
        fontsize=16, bbox=box, zorder=10)

handles, labels = ax.get_legend_handles_labels()
ax.get_legend().remove()
leg = fig.legend(handles, labels, loc='lower left', ncol=5,
                 bbox_to_anchor=(118 / 1211, 1 - 40 / 452),
                 frameon=True, fancybox=False, edgecolor='black',
                 fontsize=15.5, handlelength=0.9, handletextpad=0.4,
                 columnspacing=2.85, borderpad=0.45, borderaxespad=0,
                 markerscale=0.6)
leg.get_frame().set_linewidth(0.8)

fig.savefig('out.png', dpi=100)
